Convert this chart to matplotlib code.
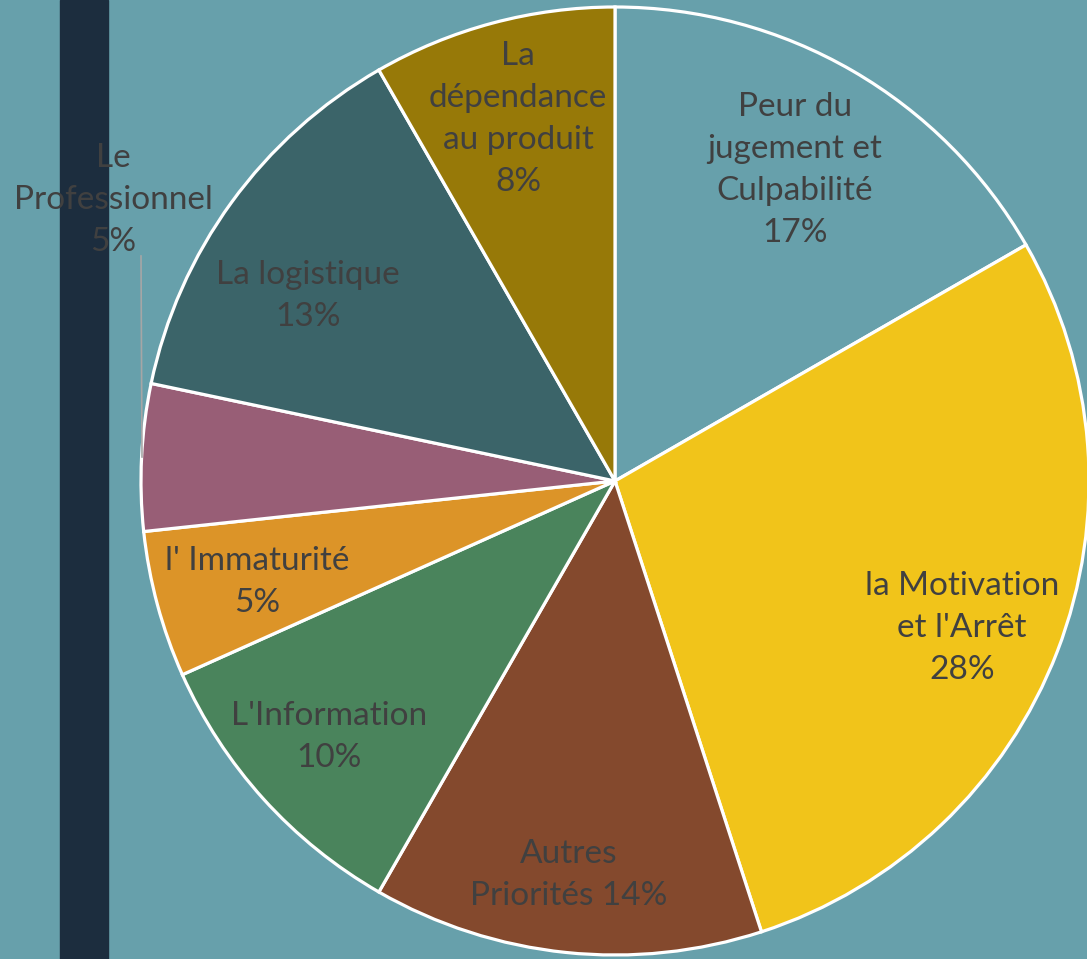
import matplotlib
matplotlib.use("Agg")
import matplotlib.pyplot as plt

# Data (shares) and displayed labels
categories = ["Peur du\njugement et\nCulpabilité", "la Motivation\net l'Arrêt", "Autres\nPriorités",
              "L'Information", "l' Immaturité", "Le\nProfessionnel", "La logistique",
              "La\ndépendance\nau produit"]
shares = [16.7, 28.3, 13.3, 10.0, 5.0, 5.0, 13.4, 8.3]
pct_labels = ["17%", "28%", "14%", "10%", "5%", "5%", "13%", "8%"]

colors = ["#67A0AB", "#F1C41A", "#84492D", "#4A845C", "#DC9428", "#985E76", "#3B6469", "#977908"]
bg = "#67A0AB"

W, H = 1087, 959
fig = plt.figure(figsize=(W / 100, H / 100), dpi=100, facecolor=bg)
ax = fig.add_axes([0, 0, 1, 1])
ax.set_facecolor(bg)

# dark vertical bar
ax.axvspan(60, 108, color="#1C2D3E", zorder=0)

cx, cy, r = 615, H - 481, 474
wedges, _ = ax.pie(shares, colors=colors, startangle=90, counterclock=False,
                   center=(cx, cy), radius=r, frame=True,
                   wedgeprops=dict(edgecolor="white", linewidth=2.3))
ax.set_xlim(0, W)
ax.set_ylim(0, H)
ax.set_aspect("equal")
ax.axis("off")

# label positions (pixel coords from top)
label_pos = [(795, 170), (962, 628), (569, 875), (329, 737), (257, 582),
             (113, 200), (308, 296), (518, 119)]
label_text = []
for cat, p in zip(categories, pct_labels):
    if cat.startswith("Autres"):
        label_text.append(cat + " " + p)
    else:
        label_text.append(cat + "\n" + p)

for txt, (x, y) in zip(label_text, label_pos):
    ax.text(x, H - y, txt, ha="center", va="center", fontsize=24, color="#404040",
            family=["Lato", "DejaVu Sans"], linespacing=1.5, zorder=5)

# leader line for "Le Professionnel"
ax.plot([141, 142], [H - 256, H - 457], color="#A6A6A6", linewidth=1.2, zorder=4)

fig.savefig("out.png", dpi=100, facecolor=bg)
